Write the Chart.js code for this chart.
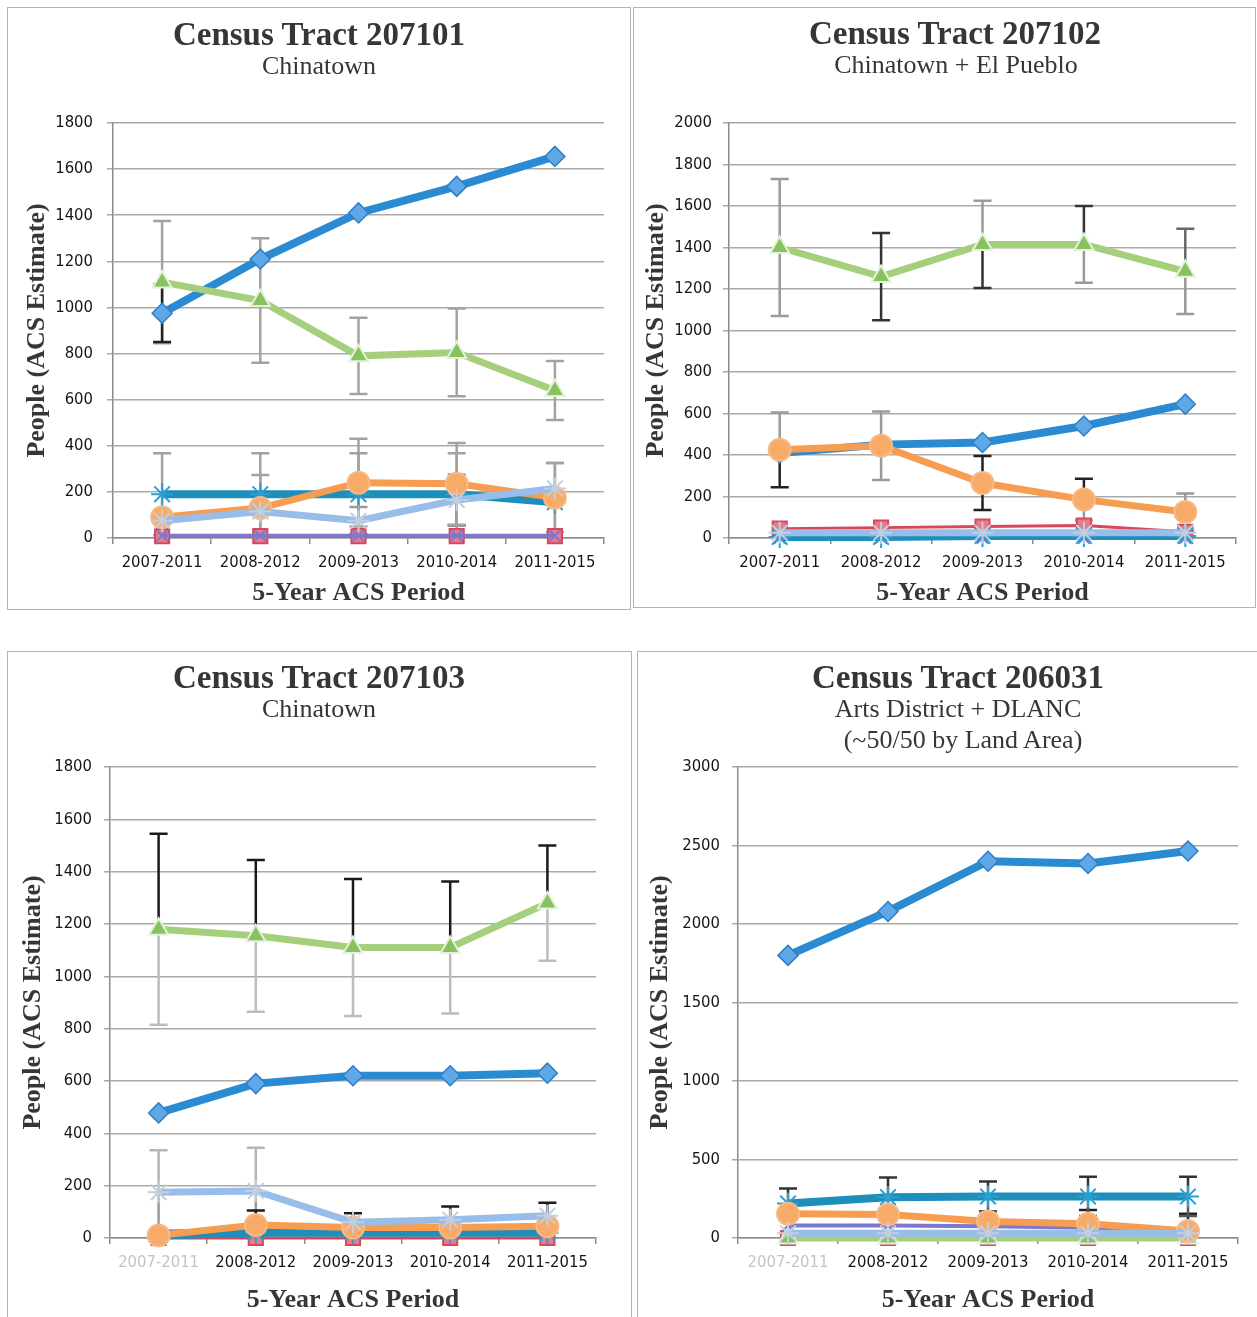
<!DOCTYPE html>
<html>
<head>
<meta charset="utf-8">
<title>ACS Estimates by Census Tract</title>
<script src="https://cdn.jsdelivr.net/npm/chart.js@4.4.1/dist/chart.umd.min.js"></script>
<style>
  html, body { margin: 0; padding: 0; background: #fff; }
  body { width: 1257px; height: 1317px; position: relative; overflow: hidden; }
  .frame { position: absolute; border: 1.5px solid #b4b4b4; box-sizing: border-box; }
  .box { position: absolute; }
  .ttl { position: absolute; width: 500px; text-align: center; font-family: 'Liberation Serif', serif; color: #363636; white-space: nowrap; }
  .big { font-size: 33px; font-weight: bold; line-height: 36px; }
  .sub { font-size: 26px; line-height: 30px; }
</style>
</head>
<body>

<div class="frame" style="left:7px;top:7px;width:624px;height:603px"></div>
<div class="frame" style="left:633px;top:7px;width:623px;height:601px"></div>
<div class="frame" style="left:7px;top:651px;width:625px;height:670px"></div>
<div class="frame" style="left:637px;top:651px;width:622px;height:670px"></div>

<div class="box" style="left:7px;top:7px;width:624px;height:603px"><canvas id="c1"></canvas></div>
<div class="box" style="left:633px;top:7px;width:623px;height:601px"><canvas id="c2"></canvas></div>
<div class="box" style="left:7px;top:651px;width:625px;height:666px"><canvas id="c3"></canvas></div>
<div class="box" style="left:637px;top:651px;width:620px;height:666px"><canvas id="c4"></canvas></div>

<div class="ttl big" style="left:69px;top:16px">Census Tract 207101</div>
<div class="ttl sub" style="left:69px;top:51px">Chinatown</div>
<div class="ttl big" style="left:705px;top:15px">Census Tract 207102</div>
<div class="ttl sub" style="left:706px;top:50px">Chinatown + El Pueblo</div>
<div class="ttl big" style="left:69px;top:659px">Census Tract 207103</div>
<div class="ttl sub" style="left:69px;top:694px">Chinatown</div>
<div class="ttl big" style="left:708px;top:659px">Census Tract 206031</div>
<div class="ttl sub" style="left:708px;top:694px">Arts District + DLANC</div>
<div class="ttl sub" style="left:713px;top:725px">(~50/50 by Land Area)</div>

<script>
const periods = ['2007-2011', '2008-2012', '2009-2013', '2010-2014', '2011-2015'];

// Census Tract 207101 - Chinatown
const ct207101Blue = [975, 1210, 1410, 1525, 1655];
const ct207101BlueErr = [125, 0, 0, 0, 0];
const ct207101Red = [8, 8, 8, 8, 8];
const ct207101Green = [1110, 1030, 790, 805, 640];
const ct207101GreenErr = [265, 270, 165, 190, 128];
const ct207101Purple = [10, 10, 10, 10, 10];
const ct207101Teal = [190, 190, 190, 190, 155];
const ct207101TealErr = [178, 178, 178, 178, 170];
const ct207101Orange = [90, 130, 240, 235, 175];
const ct207101OrangeErr = [0, 143, 190, 177, 150];
const ct207101LtBlue = [75, 115, 75, 165, 215];
const ct207101LtBlueErr = [0, 0, 60, 110, 0];

// Census Tract 207102 - Chinatown + El Pueblo
const ct207102Blue = [410, 450, 460, 540, 645];
const ct207102Red = [45, 50, 55, 60, 30];
const ct207102Green = [1400, 1260, 1415, 1415, 1285];
const ct207102GreenErr = [330, 210, 210, 185, 205];
const ct207102Purple = [0, 0, 0, 0, 0];
const ct207102Teal = [5, 5, 10, 10, 10];
const ct207102Orange = [425, 445, 265, 185, 125];
const ct207102OrangeErr = [180, 165, 130, 100, 90];
const ct207102LtBlue = [25, 25, 25, 25, 25];

// Census Tract 207103 - Chinatown
const ct207103Blue = [478, 590, 620, 620, 630];
const ct207103Red = [0, 0, 0, 0, 0];
const ct207103Green = [1180, 1155, 1110, 1110, 1280];
const ct207103GreenErr = [365, 290, 262, 252, 220];
const ct207103Purple = [25, 30, 30, 30, 30];
const ct207103Teal = [10, 20, 20, 20, 20];
const ct207103Orange = [10, 50, 40, 40, 45];
const ct207103OrangeErr = [0, 55, 55, 80, 90];
const ct207103LtBlue = [175, 180, 60, 70, 85];
const ct207103LtBlueErr = [160, 165, 0, 0, 0];

// Census Tract 206031 - Arts District + DLANC
const ct206031Blue = [1800, 2080, 2400, 2385, 2465];
const ct206031Red = [0, 0, 0, 0, 0];
const ct206031Green = [0, 0, 0, 0, 0];
const ct206031Purple = [80, 80, 75, 65, 55];
const ct206031Teal = [220, 260, 265, 265, 265];
const ct206031TealErr = [95, 125, 95, 125, 125];
const ct206031Orange = [155, 150, 105, 90, 45];
const ct206031OrangeErr = [0, 0, 40, 88, 110];
const ct206031LtBlue = [30, 30, 30, 30, 30];

const tickFont = { family: "'Liberation Sans Narrow', 'DejaVu Sans Condensed', sans-serif", size: 16.5 };
const axisFont = { family: "'Liberation Serif', serif", size: 26, weight: 'bold', lineHeight: 1 };

// look of each series (excel default marker order)
const looks = {
  blue:   { borderColor: '#2a8bd2', borderWidth: 8, pointStyle: 'rectRot', pointRadius: 10, pointBackgroundColor: '#5ea8e8', pointBorderColor: '#2f7fc4', pointBorderWidth: 1.5 },
  red:    { borderColor: '#d9475a', borderWidth: 3, pointStyle: 'rect', pointRadius: 10, pointBackgroundColor: '#e77c88', pointBorderColor: '#d9475a', pointBorderWidth: 2 },
  green:  { borderColor: '#a6cf7c', borderWidth: 7, pointStyle: 'triangle', pointRadius: 11, pointBackgroundColor: '#86c25e', pointBorderColor: '#e6f1dc', pointBorderWidth: 2 },
  purple: { borderColor: '#7d78cc', borderWidth: 4, pointStyle: 'crossRot', pointRadius: 8, pointBackgroundColor: '#7d78cc', pointBorderColor: '#7d78cc', pointBorderWidth: 2 },
  teal:   { borderColor: '#1e8fba', borderWidth: 8, pointStyle: 'star', pointRadius: 11, pointBackgroundColor: '#1e8fba', pointBorderColor: '#2a9fd0', pointBorderWidth: 2 },
  orange: { borderColor: '#f69d52', borderWidth: 7, pointStyle: 'circle', pointRadius: 11, pointBackgroundColor: '#f8aa68', pointBorderColor: '#f7b985', pointBorderWidth: 2 },
  ltblue: { borderColor: '#98bde8', borderWidth: 7, pointStyle: 'star', pointRadius: 11, pointBackgroundColor: '#c9d3e0', pointBorderColor: '#c2cfdf', pointBorderWidth: 2 }
};

function series(look, data, err, up, down) {
  return Object.assign({ label: look, data: data, err: err, errUp: up || '#a2a2a2', errDown: down || '#a2a2a2', tension: 0, clip: false }, looks[look]);
}

// vertical error bars, drawn under the lines like excel
const errorBars = {
  id: 'errorBars',
  beforeDatasetsDraw(chart) {
    const ctx = chart.ctx, y = chart.scales.y, area = chart.chartArea;
    ctx.save();
    ctx.beginPath();
    ctx.rect(area.left, area.top - 2, area.right - area.left, area.bottom - area.top + 2);
    ctx.clip();
    ctx.lineWidth = 2.5;
    chart.data.datasets.forEach((ds, i) => {
      if (!ds.err) return;
      const meta = chart.getDatasetMeta(i);
      meta.data.forEach((pt, j) => {
        const e = ds.err[j];
        if (!e) return;
        const v = ds.data[j];
        const yMid = y.getPixelForValue(v), yTop = y.getPixelForValue(v + e), yBot = y.getPixelForValue(v - e);
        const up = Array.isArray(ds.errUp) ? ds.errUp[j] : ds.errUp;
        const down = Array.isArray(ds.errDown) ? ds.errDown[j] : ds.errDown;
        ctx.strokeStyle = up;
        ctx.beginPath();
        ctx.moveTo(pt.x, yMid); ctx.lineTo(pt.x, yTop);
        ctx.moveTo(pt.x - 9, yTop); ctx.lineTo(pt.x + 9, yTop);
        ctx.stroke();
        ctx.strokeStyle = down;
        ctx.beginPath();
        ctx.moveTo(pt.x, yMid); ctx.lineTo(pt.x, yBot);
        ctx.moveTo(pt.x - 9, yBot); ctx.lineTo(pt.x + 9, yBot);
        ctx.stroke();
      });
    });
    ctx.restore();
  }
};

function tractChart(id, o) {
  return new Chart(document.getElementById(id), {
    type: 'line',
    data: { labels: periods, datasets: o.datasets },
    plugins: [errorBars],
    options: {
      responsive: true,
      maintainAspectRatio: false,
      animation: false,
      layout: { padding: o.pad },
      plugins: { legend: { display: false }, tooltip: { enabled: false } },
      scales: {
        x: {
          offset: true,
          afterFit: s => { s.height = o.xHeight; },
          grid: { offset: true, drawOnChartArea: false, tickLength: 6, color: '#8c8c8c', lineWidth: 1.5 },
          border: { display: true, color: '#8c8c8c', width: 1.5 },
          ticks: { font: tickFont, color: o.firstTickFaded ? (c => c.index === 0 ? '#c4c4c4' : '#151515') : '#151515', padding: 9, maxRotation: 0, autoSkip: false },
          title: { display: true, text: '5-Year ACS Period', font: axisFont, color: '#363636', padding: { top: 0, bottom: 0 } }
        },
        y: {
          min: 0, max: o.yMax,
          afterFit: s => { s.width = o.yWidth; },
          grid: { color: '#a9a9a9', lineWidth: 1.5, tickLength: 6 },
          border: { display: true, color: '#8c8c8c', width: 1.5 },
          ticks: { stepSize: o.yStep, font: tickFont, color: '#151515', padding: o.tickPad, callback: v => String(v) },
          title: { display: true, text: 'People (ACS Estimate)', font: axisFont, color: '#363636', padding: { top: o.yTitlePad, bottom: 0 } }
        }
      }
    }
  });
}

tractChart('c1', {
  yMax: 1800, yStep: 200, yWidth: 96, xHeight: 68, yTitlePad: 7, tickPad: 14,
  pad: { left: 10, right: 27, top: 116, bottom: 4 },
  datasets: [
    series('ltblue', ct207101LtBlue, ct207101LtBlueErr, '#9a9a9a', '#222'),
    series('orange', ct207101Orange, ct207101OrangeErr),
    series('teal', ct207101Teal, ct207101TealErr),
    series('purple', ct207101Purple),
    series('green', ct207101Green, ct207101GreenErr),
    series('red', ct207101Red),
    series('blue', ct207101Blue, ct207101BlueErr, '#222', '#222')
  ]
});

tractChart('c2', {
  yMax: 2000, yStep: 200, yWidth: 86, xHeight: 68, yTitlePad: 0, tickPad: 11,
  pad: { left: 10, right: 20, top: 116, bottom: 2 },
  datasets: [
    series('ltblue', ct207102LtBlue),
    series('orange', ct207102Orange, ct207102OrangeErr, ['#9a9a9a', '#9a9a9a', '#222', '#222', '#9a9a9a'], ['#222', '#9a9a9a', '#222', '#9a9a9a', '#9a9a9a']),
    series('teal', ct207102Teal),
    series('purple', ct207102Purple),
    series('green', ct207102Green, ct207102GreenErr, ['#9a9a9a', '#333', '#9a9a9a', '#333', '#666'], ['#9a9a9a', '#333', '#333', '#9a9a9a', '#9a9a9a']),
    series('red', ct207102Red),
    series('blue', ct207102Blue)
  ]
});

tractChart('c3', {
  yMax: 1800, yStep: 200, yWidth: 93, xHeight: 75, yTitlePad: 3, tickPad: 12, firstTickFaded: true,
  pad: { left: 10, right: 36, top: 116, bottom: 4 },
  datasets: [
    series('ltblue', ct207103LtBlue, ct207103LtBlueErr, '#b5b5b5', '#9a9a9a'),
    series('orange', ct207103Orange, ct207103OrangeErr, '#1a1a1a', '#1a1a1a'),
    series('teal', ct207103Teal),
    series('purple', ct207103Purple),
    series('green', ct207103Green, ct207103GreenErr, '#1a1a1a', '#bdbdbd'),
    series('red', ct207103Red),
    series('blue', ct207103Blue)
  ]
});

tractChart('c4', {
  yMax: 3000, yStep: 500, yWidth: 91, xHeight: 75, yTitlePad: 0, tickPad: 12, firstTickFaded: true,
  pad: { left: 10, right: 19, top: 116, bottom: 4 },
  datasets: [
    series('ltblue', ct206031LtBlue),
    series('orange', ct206031Orange, ct206031OrangeErr, '#222', '#222'),
    series('teal', ct206031Teal, ct206031TealErr, '#333', '#555'),
    series('purple', ct206031Purple),
    series('green', ct206031Green),
    series('red', ct206031Red),
    series('blue', ct206031Blue)
  ]
});
</script>
</body>
</html>
